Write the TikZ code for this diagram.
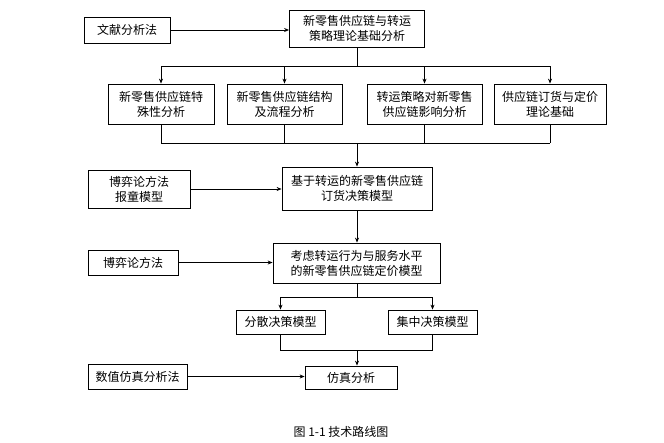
\documentclass[tikz,border=0pt]{standalone}
\usepackage{fontspec}
\setmainfont{Liberation Serif}
\newfontfamily\cjk{Noto Sans CJK SC}
\usetikzlibrary{arrows.meta}
\begin{document}
\begin{tikzpicture}[x=1pt,y=-1pt,
  bx/.style={draw,thick,inner sep=0pt,align=center,font=\cjk\fontsize{12}{15}\selectfont},
  ar/.style={-{Stealth[length=5pt,width=4pt]},thick},
  ln/.style={thick}]
\useasboundingbox[fill=white] (0,0) rectangle (664,442);
\node[bx,minimum width=86,minimum height=26] (wx) at (127,30) {文献分析法};
\node[bx,minimum width=135,minimum height=37] (top) at (357,28.5) {新零售供应链与转运\\策略理论基础分析};
\node[bx,minimum width=106,minimum height=40] (b1) at (161,104) {新零售供应链特\\殊性分析};
\node[bx,minimum width=115,minimum height=40] (b2) at (284.5,104) {新零售供应链结构\\及流程分析};
\node[bx,minimum width=115,minimum height=40] (b3) at (424.5,104) {转运策略对新零售\\供应链影响分析};
\node[bx,minimum width=112,minimum height=40] (b4) at (550,104) {供应链订货与定价\\理论基础};
\node[bx,minimum width=102,minimum height=38] (bo1) at (139,189) {博弈论方法\\报童模型};
\node[bx,minimum width=150,minimum height=43] (m1) at (357,188.5) {基于转运的新零售供应链\\订货决策模型};
\node[bx,minimum width=90,minimum height=25] (bo2) at (133,262.5) {博弈论方法};
\node[bx,minimum width=167,minimum height=40] (m2) at (356.5,263) {考虑转运行为与服务水平\\的新零售供应链定价模型};
\node[bx,minimum width=89,minimum height=24] (fs) at (280.5,322) {分散决策模型};
\node[bx,minimum width=89,minimum height=24] (jz) at (432.5,322) {集中决策模型};
\node[bx,minimum width=99,minimum height=25] (sz) at (137.5,376.5) {数值仿真分析法};
\node[bx,minimum width=92,minimum height=23] (fz) at (351,377.5) {仿真分析};
\node[font=\cjk\fontsize{12}{14}\selectfont] (cap) at (341,432) {图 1-1 技术路线图};
\coordinate (t1) at (357,66);
\coordinate (t2) at (357,143);
\coordinate (t3) at (357,297);
\coordinate (t4) at (357,350);
\draw[ar] (wx) -- (wx-|top.west);
\draw[ln] (top) -- (t1);
\draw[ln] (b1.north|-t1) -- (b4.north|-t1);
\foreach \b in {b1,b2,b3,b4}{\draw[ar] (\b.north|-t1) -- (\b.north);}
\draw[ln] (b1.south|-t2) -- (b4.south|-t2);
\foreach \b in {b1,b2,b3,b4}{\draw[ln] (\b.south) -- (\b.south|-t2);}
\draw[ar] (t2) -- (m1.north);
\draw[ar] (bo1) -- (bo1-|m1.west);
\draw[ar] (m1.south) -- (m1.south|-m2.north);
\draw[ar] (bo2) -- (bo2-|m2.west);
\draw[ln] (m2.south-|t3) -- (t3);
\draw[ln] (fs.north|-t3) -- (jz.north|-t3);
\draw[ar] (fs.north|-t3) -- (fs.north);
\draw[ar] (jz.north|-t3) -- (jz.north);
\draw[ln] (fs.south) -- (fs.south|-t4) -- (jz.south|-t4) -- (jz.south);
\draw[ar] (t4) -- (t4|-fz.north);
\draw[ar] (sz) -- (sz-|fz.west);
\end{tikzpicture}
\end{document}
